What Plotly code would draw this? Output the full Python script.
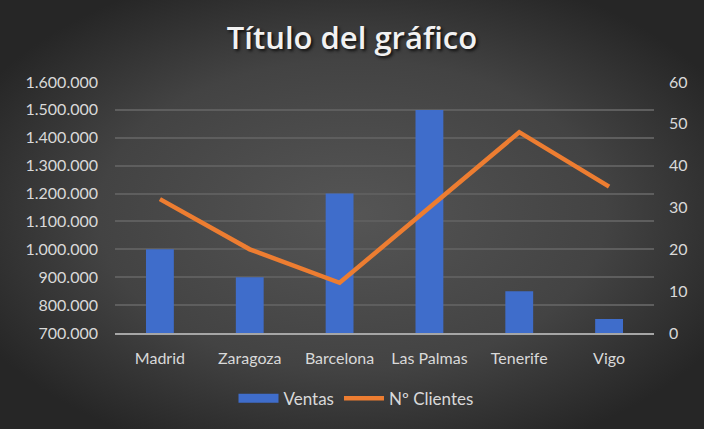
import plotly.graph_objects as go
import urllib.parse

ciudades = ['Madrid', 'Zaragoza', 'Barcelona', 'Las Palmas', 'Tenerife', 'Vigo']
ventas = [1000000, 900000, 1200000, 1500000, 850000, 750000]
clientes = [32, 20, 12, 30, 48, 35]

# fondo con degradado radial (como el estilo de Excel)
svg = ('<svg xmlns="http://www.w3.org/2000/svg" width="704" height="429">'
       '<defs><radialGradient id="g" cx="50%" cy="50%" r="60%">'
       '<stop offset="0" stop-color="#555555"/>'
       '<stop offset="0.6" stop-color="#434343"/>'
       '<stop offset="1" stop-color="#262626"/>'
       '</radialGradient></defs>'
       '<rect width="704" height="429" fill="url(#g)"/></svg>')
fondo = 'data:image/svg+xml;charset=utf-8,' + urllib.parse.quote(svg)

txt = '#d9d9d9'
fuente = 'Lato'
azul = '#3f6dcb'

fig = go.Figure()
fig.add_trace(go.Bar(x=ciudades, y=ventas, name='Ventas', showlegend=False,
                     marker=dict(color=azul, line=dict(width=0))))
# entrada de leyenda con rectangulo ancho, como en Excel
fig.add_trace(go.Scatter(x=[None], y=[None], name='Ventas', mode='lines',
                         line=dict(color=azul, width=9)))
fig.add_trace(go.Scatter(x=ciudades, y=clientes, name='Nº Clientes', yaxis='y2',
                         mode='lines', line=dict(color='#ed7d31', width=4.5)))

fig.update_layout(
    width=704, height=429,
    margin=dict(l=115, r=50, t=82, b=96),
    paper_bgcolor='#3a3a3a',
    plot_bgcolor='rgba(0,0,0,0)',
    images=[dict(source=fondo, xref='paper', yref='paper', x=-115/539, y=1 + 82/251,
                 sizex=704/539, sizey=429/251, sizing='stretch', layer='below')],
    separators=',.',
    bargap=0.69,
    title=dict(text='Título del gráfico', x=0.5, xanchor='center', y=0.91,
               yanchor='middle',
               font=dict(family='Open Sans', size=31, weight=600, color='#f2f2f2',
                         shadow='2px 2px 3px #111111')),
    font=dict(family=fuente, size=16, color=txt),
    xaxis=dict(showgrid=False, showline=True, linecolor='#a6a6a6', linewidth=2,
               ticks='', ticklabelstandoff=10, tickfont=dict(size=16, color=txt)),
    yaxis=dict(range=[700000, 1600000], dtick=100000, tickformat=',d',
               gridcolor='#5e5e5e', gridwidth=1.5, zeroline=False,
               ticklabelstandoff=16, tickfont=dict(size=16, color=txt)),
    yaxis2=dict(range=[0, 60], dtick=10, overlaying='y', side='right',
                showgrid=False, zeroline=False, ticklabelstandoff=14,
                tickfont=dict(size=16, color=txt)),
    legend=dict(orientation='h', x=(356 - 115) / 539, xanchor='center', y=-0.19,
                yanchor='top', font=dict(size=17, color=txt), itemwidth=40,
                bgcolor='rgba(0,0,0,0)'),
)

fig.write_html('out.html', config={'displayModeBar': False},
               post_script="document.body.style.margin='0';")
